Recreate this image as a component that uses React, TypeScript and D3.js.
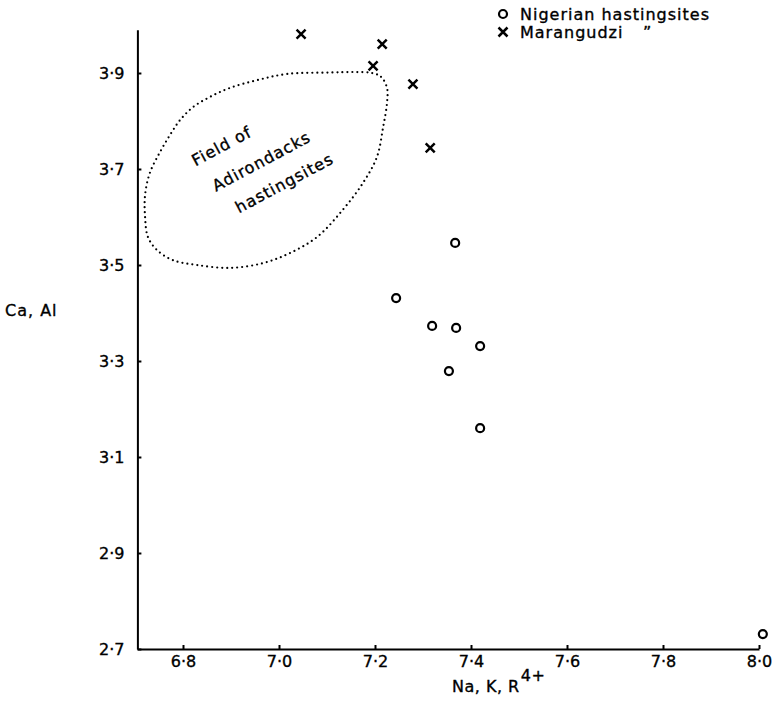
import { useEffect, useRef } from "react";
import * as d3 from "d3";

// Nigerian hastingsites (circles)
const nigerianX = [7.367, 7.244, 7.319, 7.369, 7.419, 7.354, 7.419, 8.008];
const nigerianY = [3.546, 3.431, 3.373, 3.369, 3.331, 3.279, 3.16, 2.731];

// Marangudzi hastingsites (crosses)
const marangudziX = [7.046, 7.215, 7.196, 7.279, 7.315];
const marangudziY = [3.981, 3.96, 3.915, 3.877, 3.744];

// Field of Adirondacks hastingsites (dotted outline)
const fieldX = [
  7.194, 7.2125, 7.225, 7.225, 7.217, 7.204, 7.175, 7.133, 7.079, 7.023,
  6.967, 6.898, 6.829, 6.779, 6.746, 6.727, 6.721, 6.721, 6.731, 6.752, 6.773,
  6.794, 6.821, 6.856, 6.898, 6.954, 7.017, 7.106, 7.158,
];
const fieldY = [
  3.9, 3.892, 3.869, 3.8375, 3.7875, 3.725, 3.671, 3.615, 3.558, 3.525,
  3.504, 3.494, 3.5, 3.51, 3.531, 3.558, 3.6, 3.646, 3.692, 3.735, 3.771,
  3.802, 3.829, 3.85, 3.869, 3.885, 3.898, 3.901, 3.902,
];

const xTicks = [6.8, 7.0, 7.2, 7.4, 7.6, 7.8, 8.0];
const yTicks = [2.7, 2.9, 3.1, 3.3, 3.5, 3.7, 3.9];
const fieldLabel = ["Field of", "Adirondacks", "hastingsites"];

export default function App() {
  const ref = useRef<SVGSVGElement>(null);

  useEffect(() => {
    if (!ref.current) return;
    const svg = d3.select(ref.current);
    svg.selectAll("*").remove();

    const width = 772;
    const height = 704;
    const font = "'DejaVu Sans', sans-serif";
    svg.attr("viewBox", `0 0 ${width} ${height}`);

    const x = d3.scaleLinear().domain([6.705, 8.0]).range([137.4, 759]);
    const y = d3.scaleLinear().domain([2.7, 3.99]).range([649, 29.8]);
    const fmt = (d: d3.NumberValue) => (+d).toFixed(1).replace(".", "\u00b7");

    const textStyle = (sel: any, spacing = "0px") =>
      sel
        .style("font-family", font)
        .style("font-size", "16px")
        .style("letter-spacing", spacing)
        .attr("fill", "#000")
        .attr("stroke", "#000")
        .attr("stroke-width", 0.35);

    // x axis
    const gx = svg
      .append("g")
      .attr("transform", `translate(0,${y(2.7)})`)
      .call(
        d3
          .axisBottom(x)
          .tickValues(xTicks)
          .tickSizeInner(-4)
          .tickSizeOuter(0)
          .tickPadding(7)
          .tickFormat(fmt)
      );
    gx.select(".domain").attr("stroke-width", 2);
    gx.selectAll(".tick line").attr("stroke-width", 2);
    textStyle(gx.selectAll("text"));

    // y axis
    const gy = svg
      .append("g")
      .attr("transform", `translate(${x(6.705)},0)`)
      .call(
        d3
          .axisLeft(y)
          .tickValues(yTicks)
          .tickSizeInner(-4)
          .tickSizeOuter(0)
          .tickPadding(13)
          .tickFormat(fmt)
      );
    gy.select(".domain").attr("stroke-width", 2);
    gy.selectAll(".tick line").attr("stroke-width", 2);
    textStyle(gy.selectAll("text"));

    // axis titles
    const xt = textStyle(svg.append("text").attr("x", 452).attr("y", 692), "0.5px");
    xt.append("tspan").text("Na, K, R");
    xt.append("tspan").attr("dx", 1).attr("dy", -11).text("4+");

    textStyle(svg.append("text").attr("x", 5).attr("y", 316), "1px").text("Ca, Al");

    // dotted field outline
    const pts = fieldX.map((d, i) => [x(d), y(fieldY[i])] as [number, number]);
    svg
      .append("path")
      .attr("d", d3.line().curve(d3.curveCatmullRomClosed.alpha(0.5))(pts))
      .attr("fill", "none")
      .attr("stroke", "#000")
      .attr("stroke-width", 2.2)
      .attr("stroke-linecap", "round")
      .attr("stroke-dasharray", "0 5");

    const label = svg
      .append("g")
      .attr("transform", `translate(${x(6.963)},${y(3.717)}) rotate(-28)`);
    textStyle(
      label
        .selectAll("text")
        .data(fieldLabel)
        .join("text")
        .attr("x", (_: string, i: number) => [-28, 0, 10][i])
        .attr("y", (_: string, i: number) => [-26, 6, 36][i])
        .attr("text-anchor", "middle"),
      "1px"
    ).text((d: string) => d);

    // Nigerian points
    svg
      .selectAll(".nig")
      .data(nigerianX)
      .join("circle")
      .attr("class", "nig")
      .attr("cx", (d) => x(d))
      .attr("cy", (_, i) => y(nigerianY[i]))
      .attr("r", 4)
      .attr("fill", "#fff")
      .attr("stroke", "#000")
      .attr("stroke-width", 2.2);

    // Marangudzi points
    const cross = "M-4.5,-4.5L4.5,4.5M-4.5,4.5L4.5,-4.5";
    svg
      .selectAll(".mar")
      .data(marangudziX)
      .join("path")
      .attr("class", "mar")
      .attr("transform", (d, i) => `translate(${x(d)},${y(marangudziY[i])})`)
      .attr("d", cross)
      .attr("stroke", "#000")
      .attr("stroke-width", 2.5);

    // legend
    const lg = svg.append("g");
    lg.append("circle")
      .attr("cx", 503)
      .attr("cy", 14)
      .attr("r", 4)
      .attr("fill", "#fff")
      .attr("stroke", "#000")
      .attr("stroke-width", 2.2);
    lg.append("path")
      .attr("transform", "translate(503,32)")
      .attr("d", cross)
      .attr("stroke", "#000")
      .attr("stroke-width", 2.5);
    textStyle(lg.append("text").attr("x", 520).attr("y", 20), "1px").text(
      "Nigerian hastingsites"
    );
    textStyle(lg.append("text").attr("x", 520).attr("y", 38), "1px").text("Marangudzi");
    textStyle(lg.append("text").attr("x", 643).attr("y", 38)).text("\u201d");
  }, []);

  return (
    <svg
      ref={ref}
      width={772}
      height={704}
      style={{ position: "absolute", left: 0, top: 0, background: "#fff" }}
    />
  );
}
